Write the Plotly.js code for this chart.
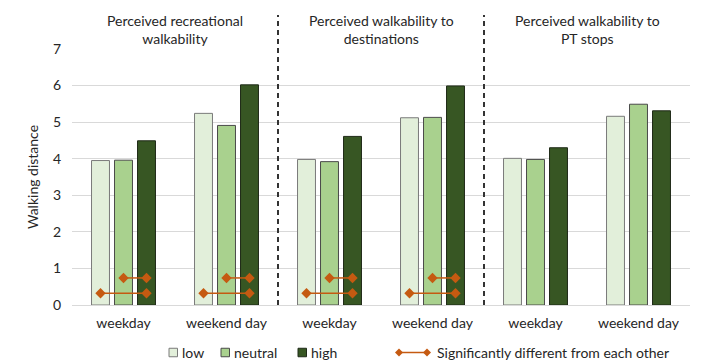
<!DOCTYPE html>
<html>
<head>
<meta charset="utf-8">
<script src="https://cdn.plot.ly/plotly-3.0.1.min.js"></script>
<style>html,body{margin:0;padding:0;background:#fff;}#chart{width:709px;height:363px;}</style>
</head>
<body>
<div id="chart"></div>
<script>
// ---- data ----
const categories = ["weekday", "weekend day", "weekday", "weekend day", "weekday", "weekend day"];
const panelTitles = ["Perceived recreational<br>walkability", "Perceived walkability to<br>destinations", "Perceived walkability to<br>PT stops"];
const seriesNames = ["low", "neutral", "high"];
const lowVals = [3.95, 5.24, 3.98, 5.12, 4.01, 5.16];
const neutralVals = [3.96, 4.91, 3.92, 5.13, 3.98, 5.49];
const highVals = [4.49, 6.02, 4.61, 5.99, 4.30, 5.31];
const sigGroups = [0, 1, 2, 3];          // groups with significant differences
const sigUpperPair = ["neutral", "high"]; // pair drawn on upper line
const sigUpperY = 0.74;
const sigLowerPair = ["low", "high"];     // pair drawn on lower line
const sigLowerY = 0.32;
const yTicks = [0, 1, 2, 3, 4, 5, 6, 7];

// ---- styles ----
const FONT = "Lato, 'Open Sans', sans-serif";
const TXT = "#262626";
const fills = {low: "#e2efda", neutral: "#a9d18e", high: "#375623"};
const outlines = {low: "#7a7a7a", neutral: "#4a4a4a", high: "#1f2a18"};
const ORANGE = "#c55a11";
const BARGAP = 0.33, GROUPGAP = 0.22;
const slot = (1 - BARGAP) / 3;
const offsetOf = {low: -slot, neutral: 0, high: slot};

const xIdx = categories.map((_, i) => i);
const vals = {low: lowVals, neutral: neutralVals, high: highVals};

const traces = seriesNames.map(n => ({
  type: "bar", name: n, x: xIdx, y: vals[n],
  marker: {color: fills[n], line: {color: outlines[n], width: 1}},
  showlegend: false, hoverinfo: "skip"
}));

function sigTrace(pair, yv) {
  const xs = [], ys = [];
  sigGroups.forEach(g => {
    xs.push(g + offsetOf[pair[0]], g + offsetOf[pair[1]], null);
    ys.push(yv, yv, null);
  });
  return {type: "scatter", mode: "lines+markers", x: xs, y: ys,
    line: {color: ORANGE, width: 1.5},
    marker: {symbol: "diamond", size: 8, color: ORANGE},
    showlegend: false, hoverinfo: "skip", cliponaxis: false};
}
traces.push(sigTrace(sigUpperPair, sigUpperY));
traces.push(sigTrace(sigLowerPair, sigLowerY));

// pixel helpers for layout decorations (plot area: x 72..690, y 49..305)
const L = 72, R = 690, T = 49, B = 305;
const px = p => (p - L) / (R - L);
const py = p => (B - p) / (B - T);

const shapes = [];
const annotations = [];

// panel separators
[1.5, 3.5].forEach(x => shapes.push({type: "line", xref: "x", yref: "paper", x0: x, x1: x, y0: 0, y1: py(15),
  line: {color: "#333", width: 2, dash: "5px,4px"}}));

// panel titles
panelTitles.forEach((t, i) => annotations.push({xref: "x", yref: "paper", x: 2 * i + 0.5, y: py(29),
  text: t, showarrow: false, xanchor: "center", yanchor: "middle", align: "center",
  font: {family: FONT, size: 14, color: TXT}}));

// legend (manual, matches reference layout)
const legY = 352.5;
const legItems = [{n: "low", sq: 169, tx: 180}, {n: "neutral", sq: 221, tx: 232}, {n: "high", sq: 298, tx: 309}];
legItems.forEach(it => {
  shapes.push({type: "rect", xref: "paper", yref: "paper", x0: px(it.sq), x1: px(it.sq + 8.5), y0: py(legY - 4.25), y1: py(legY + 4.25),
    fillcolor: fills[it.n], line: {color: outlines[it.n], width: 1}});
  annotations.push({xref: "paper", yref: "paper", x: px(it.tx), y: py(legY), text: it.n, showarrow: false,
    xanchor: "left", yanchor: "middle", font: {family: FONT, size: 14, color: TXT}});
});
shapes.push({type: "line", xref: "paper", yref: "paper", x0: px(399), x1: px(427), y0: py(legY), y1: py(legY),
  line: {color: ORANGE, width: 1.5}});
[399, 427].forEach(p => shapes.push({type: "path", xref: "paper", yref: "paper",
  path: `M${px(p - 4)},${py(legY)} L${px(p)},${py(legY - 4)} L${px(p + 4)},${py(legY)} L${px(p)},${py(legY + 4)} Z`,
  fillcolor: ORANGE, line: {color: ORANGE, width: 0}}));
annotations.push({xref: "paper", yref: "paper", x: px(435), y: py(legY), text: "Significantly different from each other",
  showarrow: false, xanchor: "left", yanchor: "middle", font: {family: FONT, size: 14, color: TXT}});

const layout = {
  width: 709, height: 363,
  margin: {l: L, r: 709 - R, t: T, b: 363 - B, pad: 0},
  paper_bgcolor: "#fff", plot_bgcolor: "#fff",
  barmode: "group", bargap: BARGAP, bargroupgap: GROUPGAP,
  showlegend: false,
  font: {family: FONT, size: 14, color: TXT},
  xaxis: {range: [-0.5, 5.5], tickvals: xIdx, ticktext: categories, showgrid: false, zeroline: false,
    showline: false, ticks: "", ticklabelstandoff: 8, tickfont: {family: FONT, size: 14, color: TXT}, fixedrange: true},
  yaxis: {range: [0, 7], tickvals: yTicks, showgrid: true, gridcolor: "#d9d9d9", gridwidth: 1,
    zeroline: true, zerolinecolor: "#d9d9d9", zerolinewidth: 1, showline: false, ticks: "",
    ticklabelstandoff: 10, tickfont: {family: FONT, size: 14, color: TXT},
    title: {text: "Walking distance", font: {family: FONT, size: 14, color: TXT}, standoff: 10}, fixedrange: true},
  shapes: shapes, annotations: annotations
};

Plotly.newPlot("chart", traces, layout, {displayModeBar: false, staticPlot: true});
</script>
</body>
</html>
